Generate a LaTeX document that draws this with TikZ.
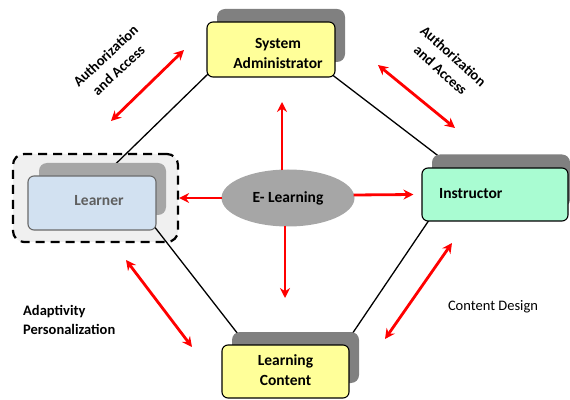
\documentclass[tikz,border=0pt]{standalone}
\usepackage{fontspec}
\setmainfont{Carlito}
\usetikzlibrary{arrows.meta,calc,shapes.geometric}
\definecolor{boxyellow}{HTML}{FFFF99}
\definecolor{boxmint}{HTML}{A9FCD2}
\definecolor{boxblue}{HTML}{D2E1F1}
\definecolor{bordergray}{HTML}{6A6A6A}
\definecolor{shadowdark}{HTML}{808080}
\definecolor{shadowlight}{HTML}{A6A6A6}
\definecolor{outerfill}{HTML}{F0F0F0}
\definecolor{ellgray}{HTML}{A6A6A6}
\definecolor{learnertext}{HTML}{5F5F5F}
\definecolor{arrowred}{HTML}{FF0000}
\pgfdeclarelayer{bottom}
\pgfdeclarelayer{background}
\pgfsetlayers{bottom,background,main}
\begin{document}
\begin{tikzpicture}[x=1pt,y=1pt,
  box/.style={draw=black,line width=1.1pt,rounded corners=6pt,inner sep=0pt},
  shadowbox/.style={fill=#1,rounded corners=8pt,inner sep=0pt},
  conn/.style={black,line width=1.3pt},
  redarrow/.style={draw=arrowred,line width=2.8pt,-{Stealth[length=10pt,width=10pt]}},
  redboth/.style={draw=arrowred,line width=2.8pt,{Stealth[length=10pt,width=10pt]}-{Stealth[length=10pt,width=10pt]}},
  boxlabel/.style={font=\fontsize{15.5}{20}\selectfont\bfseries,align=center,inner sep=0pt},
  notelabel/.style={font=\fontsize{14.5}{19}\selectfont\bfseries,align=center,inner sep=0pt},
  plainlabel/.style={font=\fontsize{14.5}{19}\selectfont,align=center,inner sep=0pt}]
\useasboundingbox (0,0) rectangle (570,399);

% Learner group outer dashed frame
\begin{pgfonlayer}{bottom}
\node[draw=black,fill=outerfill,line width=2.2pt,dash pattern=on 9pt off 6pt,rounded corners=11pt,
      minimum width=165pt,minimum height=88pt,inner sep=0pt] (lout) at (95.5,201) {};
\end{pgfonlayer}

% shadows
\node[shadowbox=shadowdark,minimum width=128pt,minimum height=53pt] (sash) at (281,363.5) {};
\node[shadowbox=shadowdark,minimum width=138pt,minimum height=53pt] (insh) at (501,218) {};
\node[shadowbox=shadowlight,minimum width=127pt,minimum height=52pt] (lsh) at (102.5,210) {};
\node[shadowbox=shadowdark,minimum width=127pt,minimum height=51pt] (lcsh) at (295.5,41.5) {};

% front boxes
\node[box,fill=boxyellow,minimum width=128pt,minimum height=55pt] (sa) at (271,349.5) {};
\node[box,fill=boxmint,minimum width=146pt,minimum height=53pt] (ins) at (495,204.5) {};
\node[box,draw=bordergray,fill=boxblue,minimum width=128pt,minimum height=54pt] (lfr) at (92,196) {};
\node[box,fill=boxyellow,minimum width=127pt,minimum height=53pt] (lc) at (285.5,27.5) {};

% box labels
\node[boxlabel] (satext) at (278,346) {System\\Administrator};
\node[boxlabel,anchor=west] (instext) at (439,205) {Instructor};
\node[boxlabel,text=learnertext] (ltext) at (99,198) {Learner};
\node[boxlabel] (lctext) at (285.5,29) {Learning\\Content};

% central ellipse
\node[ellipse,fill=ellgray,minimum width=133pt,minimum height=57pt,inner sep=0pt,
      font=\fontsize{15.5}{20}\selectfont\bfseries] (el) at (288,201) {E- Learning};

% black connectors (behind boxes)
\begin{pgfonlayer}{background}
\draw[conn] ($(sa.south west)+(3,5)$) -- ($(lsh.north west)+(77,-1)$);
\draw[conn] ($(sa.south east)+(-5,4)$) -- ($(insh.north west)+(7,-2)$);
\draw[conn] ($(ins.south west)+(10,5)$) -- ($(lcsh.north east)+(-7,-2)$);
\draw[conn] ($(lfr.south east)+(-3,5)$) -- ($(lcsh.north west)+(6,-2)$);
\end{pgfonlayer}

% red arrows from the centre
\coordinate (uptip) at (282,297);
\coordinate (downtip) at (285,101);
\draw[redarrow] ($(el.north)+(-6,-1)$) -- (uptip);
\draw[redarrow] ($(el.south)+(-3,1)$) -- (downtip);
\draw[redarrow] ($(el.west)+(1,0)$) -- (lout.east);
\draw[redarrow] ($(el.east)+(-1,3)$) -- ($(ins.west)+(-8,0)$);

% red double arrows
\coordinate (tla) at (111,278); \coordinate (tlb) at (184,349);
\coordinate (tra) at (378,334); \coordinate (trb) at (455,271);
\coordinate (bla) at (126,139); \coordinate (blb) at (192,52);
\coordinate (bra) at (452,156); \coordinate (brb) at (385,60);
\draw[redboth] (tla) -- (tlb);
\draw[redboth] (tra) -- (trb);
\draw[redboth] (bla) -- (blb);
\draw[redboth] (bra) -- (brb);

% annotation labels
\node[notelabel,rotate=43] (tllabel) at (112,336) {Authorization\\and Access};
\node[notelabel,rotate=-42] (trlabel) at (447,336) {Authorization\\and Access};
\node[notelabel,align=left,anchor=west] (bllabel) at (23,79.5) {Adaptivity\\Personalization};
\node[plainlabel] (brlabel) at (493,92) {Content Design};
\end{tikzpicture}
\end{document}
